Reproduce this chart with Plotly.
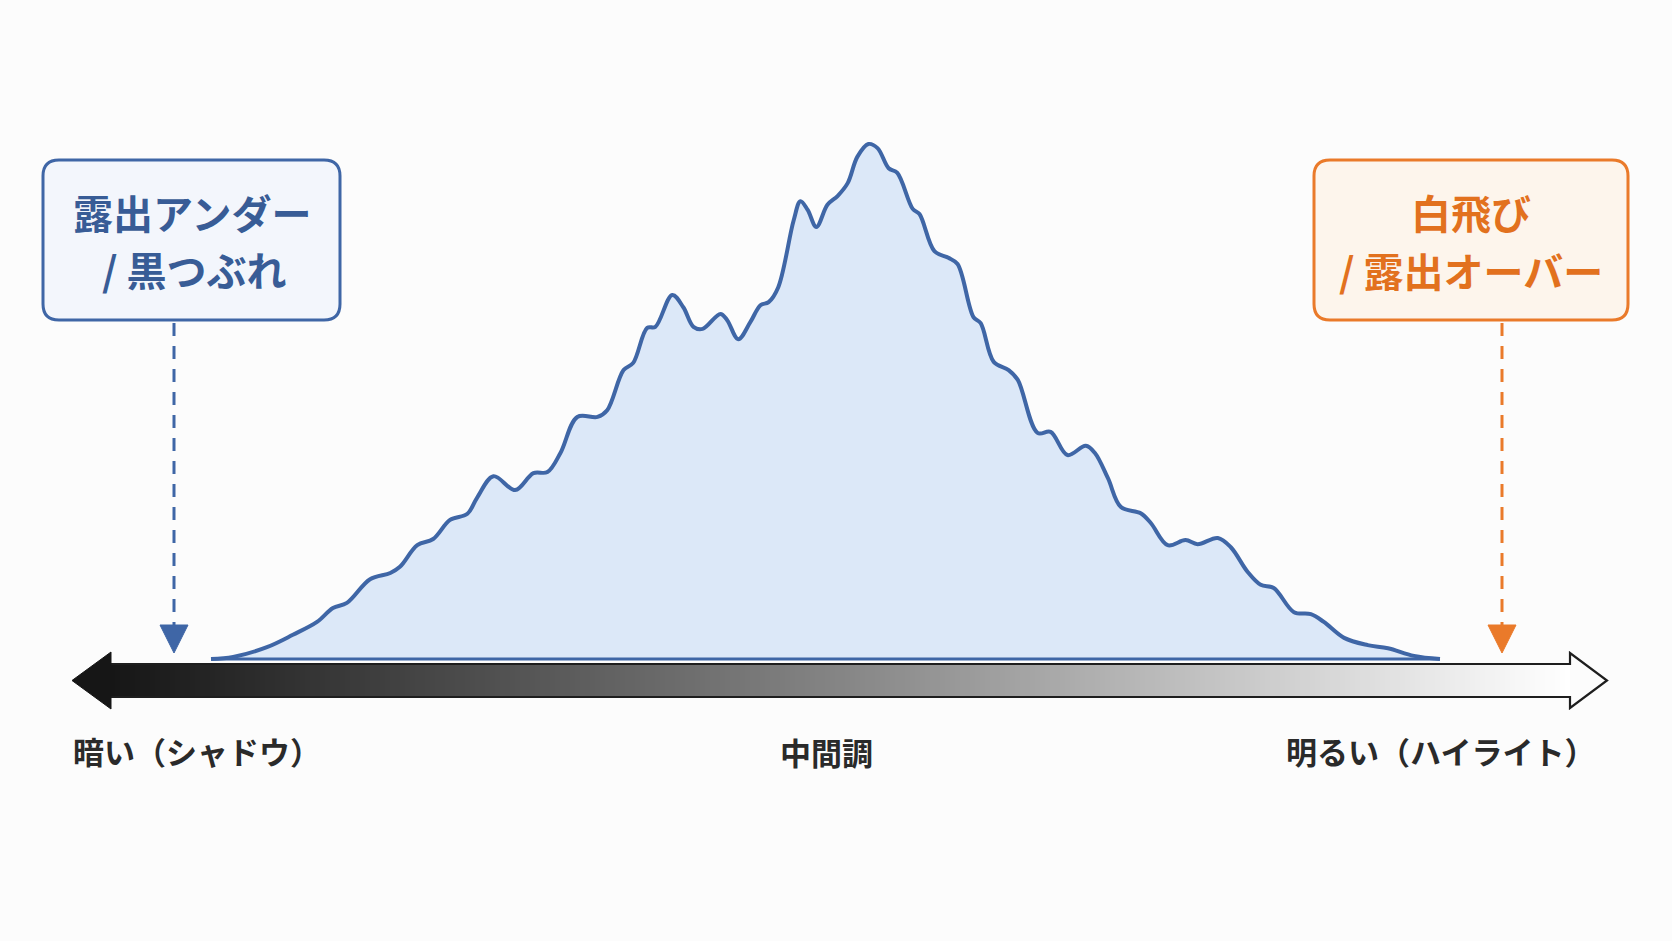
import plotly.graph_objects as go

W, H = 1672, 941

# ---- data: tone (0-255) and relative pixel count (peak = 100) ----
tone = [0, 4.6, 11.6, 17.0, 22.0, 25.3, 28.2, 33.0, 37.2, 39.2,
        42.8, 46.1, 49.6, 53.2, 55.2, 58.6, 63.1, 66.9, 69.8, 72.5,
        76.0, 80.2, 82.2, 85.6, 87.6, 90.5, 92.2, 95.7, 98.0, 100.1,
        102.0, 105.7, 107.1, 109.4, 111.9, 114.0, 115.7, 117.7, 120.9, 122.3,
        123.8, 125.6, 127.9, 130.0, 132.1, 134.1, 136.4, 138.3, 140.6, 142.4,
        145.6, 147.0, 150.1, 153.0, 154.9, 158.2, 159.7, 162.4, 165.5, 167.4,
        171.5, 174.2, 177.7, 181.5, 183.4, 186.1, 188.8, 192.9, 195.0, 198.5,
        202.2, 204.7, 208.9, 211.6, 215.1, 217.8, 220.5, 224.7, 228.2, 230.9,
        235.1, 240.0, 244.2, 249.6, 255]
count = [0, 0.4, 2.3, 4.7, 7.2, 9.9, 10.9, 15.5, 16.7, 17.9,
         22.1, 23.3, 27.0, 28.2, 31.3, 35.5, 32.8, 36.1, 36.3, 40.0,
         47.0, 47.0, 48.3, 56.1, 57.5, 64.3, 64.5, 70.7, 68.3, 64.5,
         64.1, 67.0, 65.8, 62.1, 65.4, 68.7, 69.3, 72.2, 85.2, 88.9,
         87.2, 83.9, 88.2, 89.9, 92.4, 97.5, 100.0, 99.2, 95.3, 94.4,
         87.4, 86.4, 79.2, 77.9, 76.7, 66.4, 65.2, 57.7, 56.1, 54.2,
         43.9, 44.1, 39.6, 41.4, 40.0, 35.1, 29.5, 28.3, 26.4, 22.1,
         23.1, 22.3, 23.5, 21.7, 16.9, 14.4, 13.8, 9.1, 8.7, 7.2,
         4.1, 2.7, 2.1, 0.6, 0]

left_label = ["露出アンダー", "/ 黒つぶれ"]
right_label = ["白飛び", "/ 露出オーバー"]
axis_labels = ["暗い（シャドウ）", "中間調", "明るい（ハイライト）"]

# ---- layout geometry (pixels) ----
X0_PX, X255_PX = 211, 1440     # tone 0 / 255
BASE_PX, PEAK_PX = 659, 144    # count 0 / 100
sx = (X255_PX - X0_PX) / 255.0
sy = (BASE_PX - PEAK_PX) / 100.0

def t_of(px):
    return (px - X0_PX) / sx

def c_of(py):
    return (BASE_PX - py) / sy

def X(px):
    return px / W

def Y(py):
    return 1 - py / H

BLUE = "#3f66a6"
BLUE_TXT = "#385c96"
ORANGE = "#ea7a2a"
ORANGE_TXT = "#e2711e"
FONT = "Noto Sans CJK JP"

fig = go.Figure()

# gradient bar (heatmap)
N = 292
bx0, bx1, by0, by1 = 110, 1570, 664, 697
xe = [t_of(bx0 + (bx1 - bx0) * i / N) for i in range(N + 1)]
ye = [c_of(by1), c_of(by0)]
z = [[i / (N - 1) for i in range(N)]]
fig.add_trace(go.Heatmap(x=xe, y=ye, z=z, zmin=0, zmax=1,
                         colorscale=[[0, "#161616"], [0.5, "#858585"], [1, "#ffffff"]],
                         showscale=False, hoverinfo="skip", zsmooth=False))

# histogram curve
fig.add_trace(go.Scatter(x=tone, y=count, mode="lines",
                         line=dict(color=BLUE, width=4, shape="spline", smoothing=1.0),
                         fill="tozeroy", fillcolor="rgba(214,228,247,0.85)",
                         hoverinfo="skip"))
# baseline
fig.add_trace(go.Scatter(x=[tone[0], tone[-1]], y=[0, 0], mode="lines",
                         line=dict(color=BLUE, width=3), hoverinfo="skip"))

shapes = []

def rrect(x0, y0, x1, y1, r):
    return (f"M {X(x0+r)},{Y(y0)} L {X(x1-r)},{Y(y0)} Q {X(x1)},{Y(y0)} {X(x1)},{Y(y0+r)} "
            f"L {X(x1)},{Y(y1-r)} Q {X(x1)},{Y(y1)} {X(x1-r)},{Y(y1)} "
            f"L {X(x0+r)},{Y(y1)} Q {X(x0)},{Y(y1)} {X(x0)},{Y(y1-r)} "
            f"L {X(x0)},{Y(y0+r)} Q {X(x0)},{Y(y0)} {X(x0+r)},{Y(y0)} Z")

def poly(pts):
    s = "M " + " L ".join(f"{X(a)},{Y(b)}" for a, b in pts) + " Z"
    return s

# arrow outline (right part) and left filled head
shapes.append(dict(type="path", xref="paper", yref="paper",
                   path=(f"M {X(bx0)},{Y(by0)} L {X(1570)},{Y(by0)} L {X(1570)},{Y(653)} "
                         f"L {X(1607)},{Y(680.5)} L {X(1570)},{Y(708)} L {X(1570)},{Y(by1)} "
                         f"L {X(bx0)},{Y(by1)}"),
                   line=dict(color="#1e1e1e", width=2.2)))
shapes.append(dict(type="path", xref="paper", yref="paper",
                   path=poly([(111, 652), (72, 680.5), (111, 709)]),
                   fillcolor="#161616", line=dict(color="#161616", width=1)))

# callout boxes
shapes.append(dict(type="path", xref="paper", yref="paper", path=rrect(43, 160, 340, 320, 16),
                   fillcolor="#f3f6fc", line=dict(color=BLUE, width=3)))
shapes.append(dict(type="path", xref="paper", yref="paper", path=rrect(1314, 160, 1628, 320, 16),
                   fillcolor="#fdf5ec", line=dict(color=ORANGE, width=3)))

# dashed pointers
shapes.append(dict(type="line", xref="paper", yref="paper", x0=X(174), x1=X(174), y0=Y(323), y1=Y(626),
                   line=dict(color=BLUE, width=3, dash="13px,10px")))
shapes.append(dict(type="path", xref="paper", yref="paper",
                   path=poly([(160, 625), (188, 625), (174, 653)]),
                   fillcolor=BLUE, line=dict(color=BLUE, width=1)))
shapes.append(dict(type="line", xref="paper", yref="paper", x0=X(1502), x1=X(1502), y0=Y(323), y1=Y(626),
                   line=dict(color=ORANGE, width=3, dash="13px,10px")))
shapes.append(dict(type="path", xref="paper", yref="paper",
                   path=poly([(1488, 625), (1516, 625), (1502, 653)]),
                   fillcolor=ORANGE, line=dict(color=ORANGE, width=1)))

annotations = []

def txt(s, x, y, size, color, weight):
    annotations.append(dict(text=s, x=X(x), y=Y(y), xref="paper", yref="paper",
                            xanchor="center", yanchor="middle", showarrow=False,
                            font=dict(family=FONT, size=size, color=color, weight=weight)))

txt(left_label[0], 192, 212, 40, BLUE_TXT, 700)
txt(left_label[1], 194, 269, 40, BLUE_TXT, 700)
txt(right_label[0], 1471, 212, 40, ORANGE_TXT, 700)
txt(right_label[1], 1471, 270, 40, ORANGE_TXT, 700)

txt(axis_labels[0], 197, 750, 31, "#2a2a2a", 600)
txt(axis_labels[1], 826, 751, 31, "#2a2a2a", 600)
txt(axis_labels[2], 1440, 750, 31, "#2a2a2a", 600)

fig.update_layout(
    width=W, height=H, margin=dict(l=0, r=0, t=0, b=0),
    paper_bgcolor="#fcfcfc", plot_bgcolor="#fcfcfc",
    showlegend=False, shapes=shapes, annotations=annotations,
    xaxis=dict(range=[t_of(0), t_of(W)], visible=False, fixedrange=True),
    yaxis=dict(range=[c_of(H), c_of(0)], visible=False, fixedrange=True),
)

fig.write_html("out.html", config={"displayModeBar": False},
               post_script="document.body.style.margin='0';document.body.style.overflow='hidden';")
